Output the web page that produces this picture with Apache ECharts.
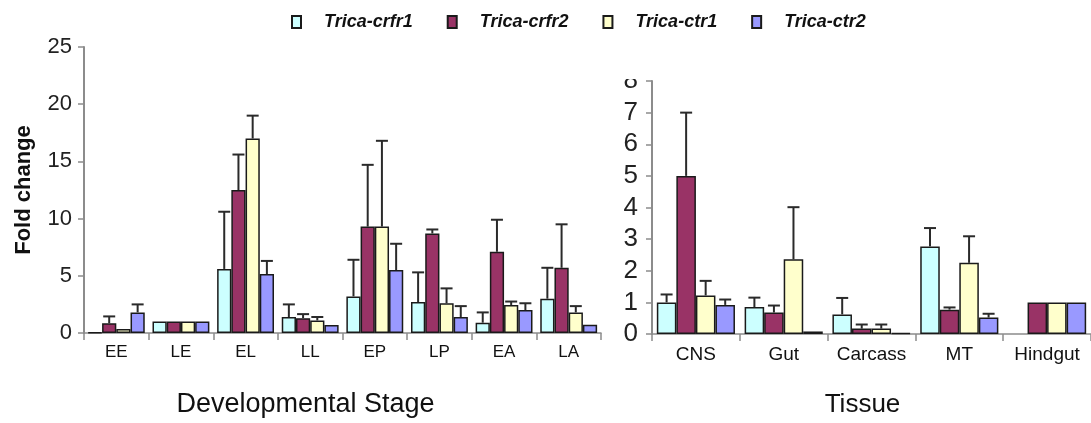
<!DOCTYPE html>
<html>
<head>
<meta charset="utf-8">
<script src="https://cdn.jsdelivr.net/npm/echarts@6/dist/echarts.min.js"></script>
<style>
  html, body { margin: 0; padding: 0; background: #fff; }
  #chart { width: 1091px; height: 423px; }
</style>
</head>
<body>
<div id="chart"></div>
<script>
// Categories
const stages = ['EE', 'LE', 'EL', 'LL', 'EP', 'LP', 'EA', 'LA'];
const tissues = ['CNS', 'Gut', 'Carcass', 'MT', 'Hindgut'];
const geneNames = ['Trica-crfr1', 'Trica-crfr2', 'Trica-ctr1', 'Trica-ctr2'];

// Fold change by developmental stage (mean, and upper error)
const stageCrfr1 = [0.05, 1, 5.6, 1.4, 3.2, 2.7, 0.9, 3.0];
const stageCrfr1Err = [0, 0, 5.0, 1.1, 3.2, 2.6, 0.9, 2.7];
const stageCrfr2 = [0.85, 1, 12.5, 1.3, 9.3, 8.7, 7.1, 5.7];
const stageCrfr2Err = [0.6, 0, 3.1, 0.35, 5.4, 0.35, 2.8, 3.8];
const stageCtr1 = [0.35, 1, 17.0, 1.1, 9.3, 2.6, 2.45, 1.8];
const stageCtr1Err = [0, 0, 2.0, 0.3, 7.5, 1.3, 0.3, 0.55];
const stageCtr2 = [1.8, 1, 5.15, 0.7, 5.5, 1.4, 2.0, 0.72];
const stageCtr2Err = [0.7, 0, 1.15, 0, 2.3, 0.95, 0.6, 0];

// Fold change by tissue (mean, and upper error)
const tissueCrfr1 = [1.0, 0.85, 0.62, 2.77, null];
const tissueCrfr1Err = [0.25, 0.3, 0.52, 0.58, 0];
const tissueCrfr2 = [5.0, 0.68, 0.17, 0.77, 1];
const tissueCrfr2Err = [2.0, 0.22, 0.13, 0.07, 0];
const tissueCtr1 = [1.22, 2.36, 0.17, 2.25, 1];
const tissueCtr1Err = [0.46, 1.65, 0.13, 0.84, 0];
const tissueCtr2 = [0.92, 0.08, 0.03, 0.52, 1];
const tissueCtr2Err = [0.17, 0, 0, 0.12, 0];

// Axis ticks
const stageTicks = { min: 0, max: 25, interval: 5 };
const tissueTicks = { min: 0, max: 8, interval: 1 };

const colors = ['#ccffff', '#993366', '#ffffcc', '#9999ff'];
const NARROW = '"Liberation Sans Narrow", "Liberation Sans", Arial, sans-serif';
const REGULAR = '"Liberation Sans", Arial, sans-serif';
const AXIS_GREY = '#8c8c8c';
const LEFT_GAP = 0.12;
const RIGHT_GAP = 0.11;

const stageVals = [stageCrfr1, stageCrfr2, stageCtr1, stageCtr2];
const stageErrs = [stageCrfr1Err, stageCrfr2Err, stageCtr1Err, stageCtr2Err];
const tissueVals = [tissueCrfr1, tissueCrfr2, tissueCtr1, tissueCtr2];
const tissueErrs = [tissueCrfr1Err, tissueCrfr2Err, tissueCtr1Err, tissueCtr2Err];

function barSeries(axisIdx, k, vals, gap) {
  return {
    type: 'bar',
    name: geneNames[k],
    xAxisIndex: axisIdx,
    yAxisIndex: axisIdx,
    data: vals,
    barGap: '0%',
    barCategoryGap: (gap * 100) + '%',
    itemStyle: { color: colors[k], borderColor: '#1a1a1a', borderWidth: 1.5 },
    emphasis: { disabled: true },
    z: 2
  };
}

// Upper error whiskers drawn at the centre of each bar in the group
function errorSeries(axisIdx, k, vals, errs, gap) {
  const data = vals.map((v, i) => [i, v == null ? 0 : v + errs[i]]);
  return {
    type: 'custom',
    name: geneNames[k] + ' err',
    xAxisIndex: axisIdx,
    yAxisIndex: axisIdx,
    data: data,
    encode: { x: 0, y: 1 },
    z: 3,
    silent: true,
    renderItem: function (params, api) {
      const i = api.value(0);
      const v = vals[i];
      const e = errs[i];
      if (v == null || !e) return null;
      const catW = api.size([1, 0])[0];
      const groupW = catW * (1 - gap);
      const bw = groupW / 4;
      const base = api.coord([i, v]);
      const top = api.coord([i, v + e]);
      const x = base[0] - groupW / 2 + bw * (k + 0.5);
      const cap = 6;
      const style = { stroke: '#2a2a2a', lineWidth: 2 };
      return {
        type: 'group',
        children: [
          { type: 'line', shape: { x1: x, y1: base[1], x2: x, y2: top[1] }, style: style },
          { type: 'line', shape: { x1: x - cap, y1: top[1], x2: x + cap, y2: top[1] }, style: style }
        ]
      };
    }
  };
}

const series = [];
for (let k = 0; k < 4; k++) series.push(barSeries(0, k, stageVals[k], LEFT_GAP));
for (let k = 0; k < 4; k++) series.push(barSeries(1, k, tissueVals[k], RIGHT_GAP));
for (let k = 0; k < 4; k++) series.push(errorSeries(0, k, stageVals[k], stageErrs[k], LEFT_GAP));
for (let k = 0; k < 4; k++) series.push(errorSeries(1, k, tissueVals[k], tissueErrs[k], RIGHT_GAP));

function catAxis(gridIndex, cats, labelSize, name, nameSize, namePad) {
  return {
    type: 'category',
    gridIndex: gridIndex,
    data: cats,
    axisLine: { lineStyle: { color: AXIS_GREY, width: 1.5 } },
    axisTick: { show: true, length: 7, lineStyle: { color: AXIS_GREY, width: 1.5 } },
    axisLabel: { interval: 0, color: '#111', fontFamily: NARROW, fontSize: labelSize, margin: 11 },
    name: name,
    nameLocation: 'middle',
    nameGap: 58,
    nameTextStyle: { color: '#111', fontFamily: NARROW, fontSize: nameSize, padding: namePad }
  };
}

function valAxis(gridIndex, ticks, labelFont, labelSize, labelMargin, name) {
  return {
    type: 'value',
    gridIndex: gridIndex,
    min: ticks.min,
    max: ticks.max,
    interval: ticks.interval,
    axisLine: { show: true, lineStyle: { color: AXIS_GREY, width: 2 } },
    axisTick: { show: true, length: 6, lineStyle: { color: AXIS_GREY, width: 1.5 } },
    splitLine: { show: false },
    axisLabel: { color: '#222', fontFamily: labelFont, fontSize: labelSize, margin: labelMargin },
    name: name,
    nameLocation: 'middle',
    nameRotate: 90,
    nameGap: 49,
    nameTextStyle: { color: '#111', fontFamily: REGULAR, fontSize: 22, fontWeight: 'bold' }
  };
}

const chart = echarts.init(document.getElementById('chart'), null, { renderer: 'canvas' });
chart.setOption({
  animation: false,
  backgroundColor: '#ffffff',
  color: colors,
  legend: {
    data: geneNames,
    top: 8,
    left: 286,
    itemWidth: 9,
    itemHeight: 12,
    itemGap: 34,
    icon: 'rect',
    textStyle: {
      color: '#111', fontFamily: REGULAR, fontSize: 18, fontWeight: 'bold', fontStyle: 'italic',
      padding: [0, 0, 0, 18]
    }
  },
  grid: [
    { left: 84, top: 47, width: 517, height: 288 },
    { left: 652, top: 81, width: 439, height: 258 }
  ],
  xAxis: [
    catAxis(0, stages, 17, 'Developmental Stage', 27, [0, 74, 0, 0]),
    catAxis(1, tissues, 19, 'Tissue', 26, [0, 18, 0, 0])
  ],
  yAxis: [
    valAxis(0, stageTicks, REGULAR, 22, 12, 'Fold change'),
    valAxis(1, tissueTicks, NARROW, 26, 14, '')
  ],
  series: series,
  graphic: [
    // the tissue panel is cut off just above its top tick
    { type: 'rect', shape: { x: 600, y: 40, width: 48, height: 39 }, style: { fill: '#ffffff' }, z: 100 }
  ]
});
</script>
</body>
</html>
